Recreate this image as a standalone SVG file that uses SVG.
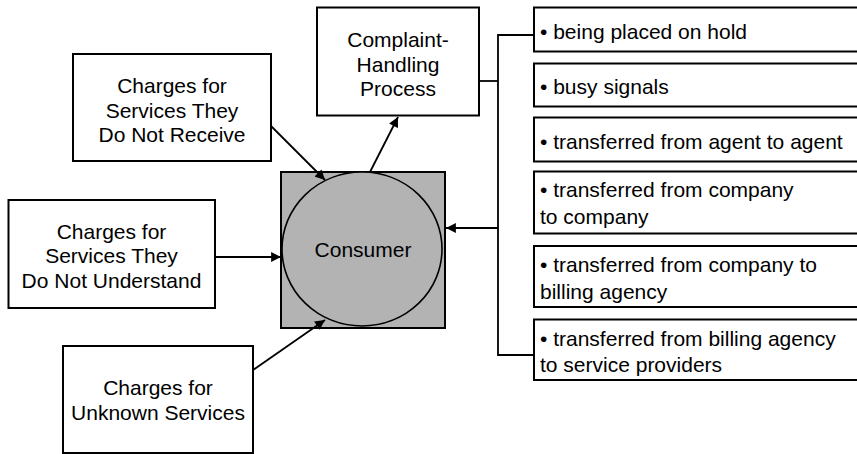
<svg xmlns="http://www.w3.org/2000/svg" width="857" height="454" viewBox="0 0 857 454">
<defs>
<style>
.box{fill:#fff;stroke:#000;stroke-width:2}
.t{font-family:"Liberation Sans",Arial,sans-serif;font-size:21px;fill:#000}
.c{text-anchor:middle}
.ln{fill:none;stroke:#000;stroke-width:1.8}
</style>
<marker id="ah" viewBox="0 0 10 10" refX="10" refY="5" markerWidth="6" markerHeight="5.5" orient="auto" markerUnits="strokeWidth">
<path d="M0,0 L10,5 L0,10 z" fill="#000"/>
</marker>
</defs>
<rect width="857" height="454" fill="#fff"/>

<g id="consumer">
<rect x="281" y="172" width="164" height="156" fill="#b3b3b3" stroke="#000" stroke-width="2"/>
<ellipse cx="362" cy="249" rx="80" ry="77" fill="#b3b3b3" stroke="#000" stroke-width="1.6"/>
<text class="t c" x="363" y="257">Consumer</text>
</g>

<g id="complaint">
<rect class="box" x="317" y="7.5" width="162" height="108"/>
<text class="t c" x="398" y="47">Complaint-</text>
<text class="t c" x="398" y="71.5">Handling</text>
<text class="t c" x="398" y="95.5">Process</text>
</g>

<g id="receive">
<rect class="box" x="73" y="54" width="198" height="107"/>
<text class="t c" x="172" y="93">Charges for</text>
<text class="t c" x="172" y="117.5">Services They</text>
<text class="t c" x="172" y="142">Do Not Receive</text>
</g>

<g id="understand">
<rect class="box" x="8.5" y="200" width="206.5" height="108"/>
<text class="t c" x="111.5" y="238.5">Charges for</text>
<text class="t c" x="111.5" y="263">Services They</text>
<text class="t c" x="111.5" y="287.5">Do Not Understand</text>
</g>

<g id="unknown">
<rect class="box" x="63" y="346" width="190" height="107"/>
<text class="t c" x="158" y="394.5">Charges for</text>
<text class="t c" x="158" y="420">Unknown Services</text>
</g>

<g id="hold">
<rect class="box" x="534" y="7.5" width="340" height="44"/>
<text class="t" x="540" y="39">• being placed on hold</text>
</g>
<g id="busy">
<rect class="box" x="534" y="63.5" width="340" height="43"/>
<text class="t" x="540" y="93.5">• busy signals</text>
</g>
<g id="agent">
<rect class="box" x="534" y="117.5" width="340" height="44"/>
<text class="t" x="540" y="148.5">• transferred from agent to agent</text>
</g>
<g id="company">
<rect class="box" x="534" y="171.5" width="340" height="62"/>
<text class="t" x="540" y="197">• transferred from company</text>
<text class="t" x="540" y="223.5">to company</text>
</g>
<g id="billing">
<rect class="box" x="534" y="246" width="340" height="61"/>
<text class="t" x="540" y="272">• transferred from company to</text>
<text class="t" x="540" y="298.5">billing agency</text>
</g>
<g id="providers">
<rect class="box" x="534" y="319.5" width="340" height="60.5"/>
<text class="t" x="540" y="346">• transferred from billing agency</text>
<text class="t" x="540" y="372">to service providers</text>
</g>

<g id="connectors">
<path class="ln" d="M534,35 H498 V355 H534"/>
<path class="ln" d="M479,81 H498"/>
<line class="ln" x1="498" y1="228" x2="446" y2="228" marker-end="url(#ah)"/>
<line class="ln" x1="271" y1="126" x2="325" y2="180" marker-end="url(#ah)"/>
<line class="ln" x1="215" y1="257" x2="281" y2="257" marker-end="url(#ah)"/>
<line class="ln" x1="253" y1="370" x2="325" y2="320" marker-end="url(#ah)"/>
<line class="ln" x1="370" y1="172" x2="398" y2="117" marker-end="url(#ah)"/>
</g>
</svg>
